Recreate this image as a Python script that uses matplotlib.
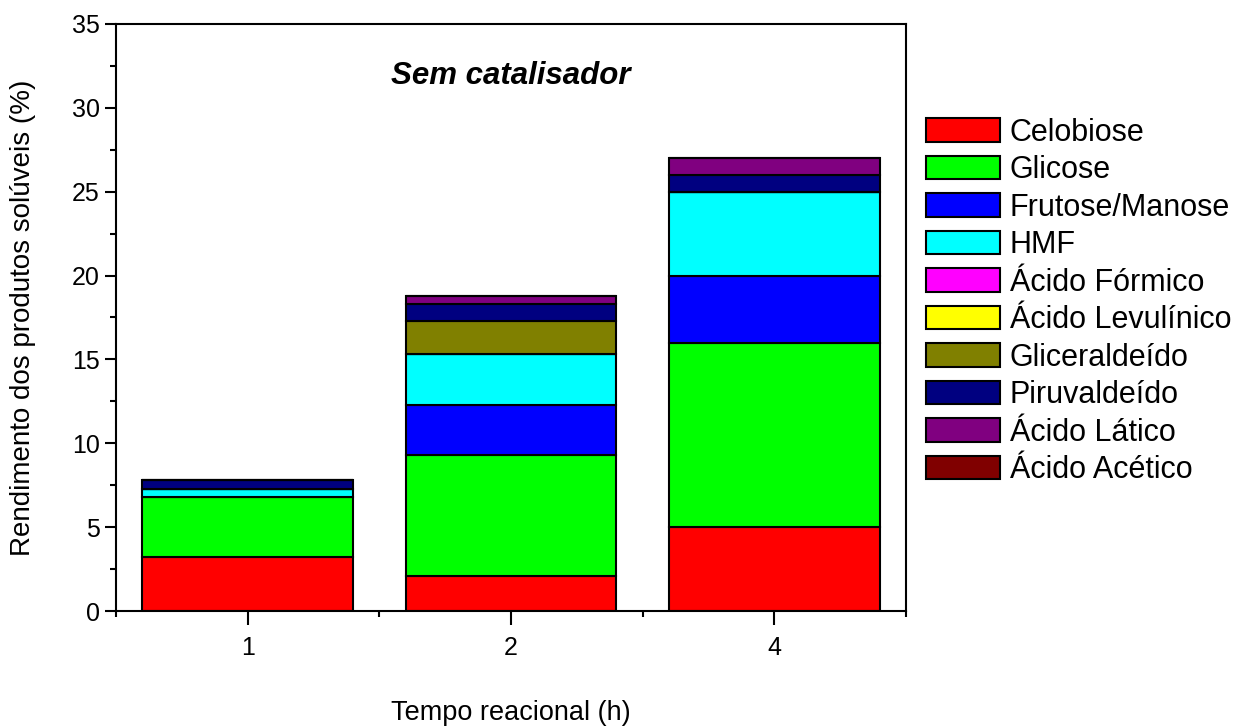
import numpy as np
import matplotlib.pyplot as plt
from matplotlib.ticker import MultipleLocator, FixedLocator

plt.rcParams['font.family'] = ['Liberation Sans', 'DejaVu Sans']

# Tempo reacional (h) e rendimento de cada produto (%)
tempos = ['1', '2', '4']
celobiose = [3.2, 2.1, 5.0]
glicose = [3.6, 7.2, 11.0]
frutose_manose = [0.0, 3.0, 4.0]
hmf = [0.5, 3.0, 5.0]
acido_formico = [0.0, 0.0, 0.0]
acido_levulinico = [0.0, 0.0, 0.0]
gliceraldeido = [0.0, 2.0, 0.0]
piruvaldeido = [0.5, 1.0, 1.0]
acido_latico = [0.0, 0.5, 1.0]
acido_acetico = [0.0, 0.0, 0.0]

produtos = ['Celobiose', 'Glicose', 'Frutose/Manose', 'HMF', 'Ácido Fórmico',
            'Ácido Levulínico', 'Gliceraldeído', 'Piruvaldeído', 'Ácido Lático',
            'Ácido Acético']
series = [celobiose, glicose, frutose_manose, hmf, acido_formico,
          acido_levulinico, gliceraldeido, piruvaldeido, acido_latico, acido_acetico]
cores = ['#ff0000', '#00ff00', '#0000ff', '#00ffff', '#ff00ff',
         '#ffff00', '#808000', '#000080', '#800080', '#800000']

fig = plt.figure(figsize=(12.39, 7.26), dpi=100)
ax = fig.add_axes([0.0936, 0.1584, 0.6376, 0.8086])

x = np.arange(len(tempos))
base = np.zeros(len(tempos))
handles = []
for nome, valores, cor in zip(produtos, series, cores):
    valores = np.array(valores)
    b = ax.bar(x, valores, width=0.8, bottom=base, color=cor,
               edgecolor='black', linewidth=1.5, label=nome)
    handles.append(b)
    base += valores

ax.set_xlim(-0.5, 2.5)
ax.set_ylim(0, 35)
ax.set_xticks(x)
ax.set_xticklabels(tempos)
ax.xaxis.set_minor_locator(FixedLocator([-0.5, 0.5, 1.5, 2.5]))
ax.yaxis.set_major_locator(MultipleLocator(5))
ax.yaxis.set_minor_locator(MultipleLocator(2.5))

ax.tick_params(axis='both', which='major', direction='out', length=8, width=1.5,
               labelsize=18)
ax.tick_params(axis='both', which='minor', direction='out', length=4, width=1.5)
ax.tick_params(axis='x', which='major', length=10, pad=8)
for s in ax.spines.values():
    s.set_linewidth(1.5)

ax.set_ylabel('Rendimento dos produtos solúveis (%)', fontsize=20, labelpad=26)
ax.set_xlabel('Tempo reacional (h)', fontsize=19.5, labelpad=29)

ax.text(1.0, 31.9, 'Sem catalisador', ha='center', va='center',
        fontsize=22.5, fontweight='bold', fontstyle='italic')

fig.legend(handles=handles, labels=produtos, loc='upper left',
           bbox_to_anchor=(0.747, 0.838), frameon=False, fontsize=22,
           handlelength=2.45, handleheight=0.8, labelspacing=0.245,
           handletextpad=0.3, borderpad=0, borderaxespad=0)

fig.savefig('out.png', dpi=100)
